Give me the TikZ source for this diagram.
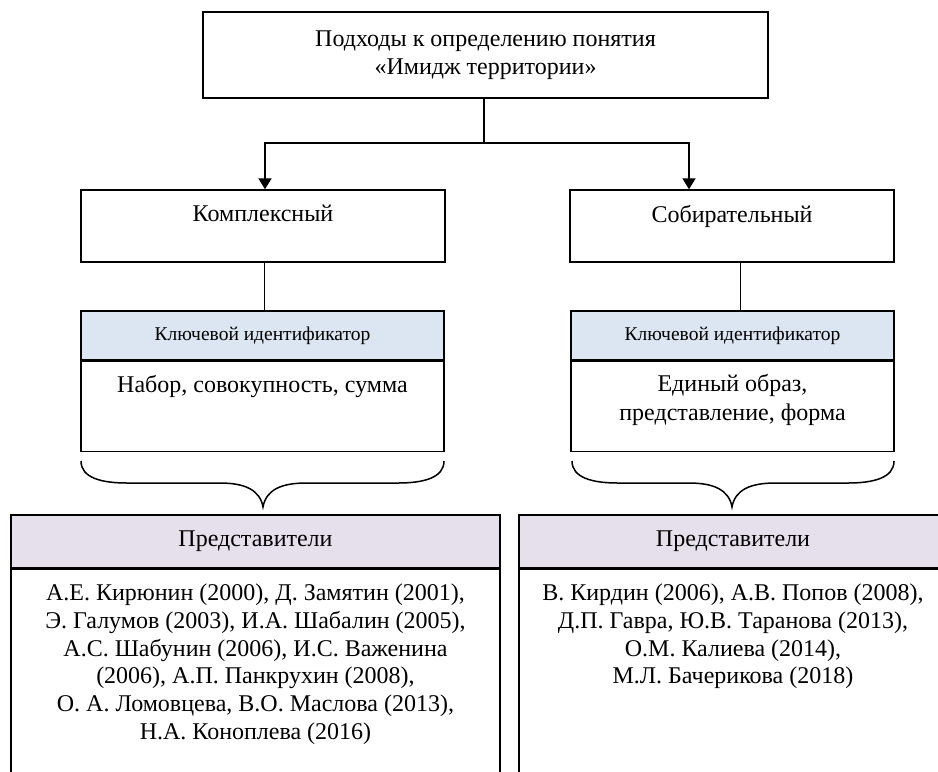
\documentclass[tikz,border=0pt]{standalone}
\usepackage{fontspec}
\setmainfont{Liberation Serif}
\usetikzlibrary{arrows.meta,calc}
\definecolor{keyblue}{HTML}{DCE6F2}
\definecolor{replilac}{HTML}{E5E0EC}
\newcommand{\mkbrace}[4]{%
  \draw[bracestyle] (#1,#4) .. controls +(0,17) and +(-25,0) .. (#1+46,#4+22)
    -- (#3-43,#4+22) .. controls +(25,0) and +(-3,-17) .. (#3,#4+46)
    .. controls +(3,-17) and +(-25,0) .. (#3+43,#4+22)
    -- (#2-46,#4+22) .. controls +(25,0) and +(0,17) .. (#2,#4);}
\begin{document}
\begin{tikzpicture}[x=0.6pt,y=-0.6pt,
  mainfont/.style={font=\fontsize{14.4}{16.6}\selectfont},
  box/.style={draw=black, line width=0.9pt, rectangle, inner sep=0pt, align=center, mainfont},
  keyhead/.style={box, fill=keyblue, font=\fontsize{11.7}{14}\selectfont},
  rephead/.style={box, fill=replilac},
  lbl/.style={anchor=north, inner sep=0pt, align=center, font=\fontsize{14.4}{16.6}\selectfont},
  thickconn/.style={line width=1.2pt},
  thinconn/.style={line width=0.6pt},
  arr/.style={thickconn, -{Triangle[length=6.6pt,width=7.8pt]}},
  bracestyle/.style={line width=0.9pt}]
\path[use as bounding box] (0,0) rectangle (938,771);
\clip (0,0) rectangle (938,771);
\fill[white] (0,0) rectangle (938,771);

% top box
\node[box, minimum width=339pt, minimum height=51.6pt] (top) at (485.5,55)
  {Подходы к определению понятия\\«Имидж территории»};

% approach boxes
\node[box, minimum width=218.4pt, minimum height=43.2pt,
  label={[lbl, yshift=-9.4pt]north:Комплексный}]
  (kompl) at (263,226) {};
\node[box, minimum width=194.4pt, minimum height=43.2pt,
  label={[lbl, yshift=-9.4pt]north:Собирательный}]
  (sobir) at (732,226) {};

% key identifier boxes
\node[keyhead, minimum width=217.8pt, minimum height=29.4pt] (keyLh) at (262.5,335.5) {Ключевой идентификатор};
\node[box, minimum width=217.8pt, minimum height=54pt, anchor=north,
  label={[lbl, yshift=-8.4pt]north:Набор, совокупность, сумма}]
  (keyLb) at (keyLh.south) {};
\node[keyhead, minimum width=193.8pt, minimum height=29.4pt] (keyRh) at (732.5,335.5) {Ключевой идентификатор};
\node[box, minimum width=193.8pt, minimum height=54pt, anchor=north,
  label={[lbl, yshift=-8.1pt, font=\fontsize{14.4}{17.4}\selectfont]north:Единый образ,\\представление, форма}]
  (keyRb) at (keyRh.south) {};

% representatives
\node[rephead, minimum width=293.4pt, minimum height=31.8pt] (botLh) at (255.5,541.5) {Представители};
\node[box, minimum width=293.4pt, minimum height=175.2pt, anchor=north,
  label={[lbl, yshift=-9pt]north:А.Е. Кирюнин (2000), Д. Замятин (2001),\\Э. Галумов (2003), И.А. Шабалин (2005),\\А.С. Шабунин (2006), И.С. Важенина\\(2006), А.П. Панкрухин (2008),\\О. А. Ломовцева, В.О. Маслова (2013),\\Н.А. Коноплева (2016)}]
  (botLb) at (botLh.south) {};
\node[rephead, minimum width=256.8pt, minimum height=31.8pt] (botRh) at (733,541.5) {Представители};
\node[box, minimum width=256.8pt, minimum height=175.2pt, anchor=north,
  label={[lbl, yshift=-9pt]north:В. Кирдин (2006), А.В. Попов (2008),\\Д.П. Гавра, Ю.В. Таранова (2013),\\О.М. Калиева (2014),\\М.Л. Бачерикова (2018)}]
  (botRb) at (botRh.south) {};

% connectors
\coordinate (split) at (484,143);
\draw[thickconn] (top.south -| split) -- (split);
\draw[arr] (split) -| ($(kompl.north)+(2,0)$);
\draw[arr] (split) -| ($(sobir.north)+(-43,0)$);
\draw[thinconn] ($(kompl.south)+(1,0)$) -- ($(keyLh.north)+(1.5,0)$);
\draw[thinconn] ($(sobir.south)+(8,0)$) -- ($(keyRh.north)+(7.5,0)$);

% braces
\mkbrace{81}{444}{263}{461}
\mkbrace{572}{894}{732}{461}
\end{tikzpicture}
\end{document}
